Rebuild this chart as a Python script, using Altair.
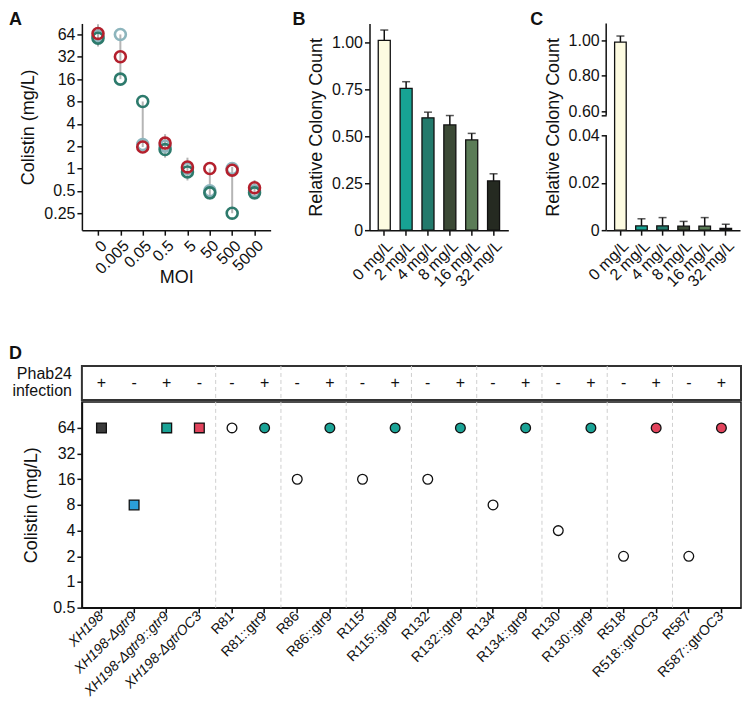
import altair as alt
import pandas as pd

FONT = "Liberation Sans"
INK = "#111111"

# ---------------- Panel A data ----------------
moi = ["0", "0.005", "0.05", "0.5", "5", "50", "500", "5000"]
a_series = ["light", "teal", "red"]
a_colors = ["#8db5bd", "#2d7a6c", "#b3202d"]
a_light = [61, 64, 2.1, 2.0, 1.0, 0.5, 1.0, 0.5]
a_teal = [57, 16, 8, 1.8, 0.9, 0.47, 0.25, 0.47]
a_red = [66, 32, 1.95, 2.2, 1.05, 1.0, 0.95, 0.55]
a_hi = [88, 64, 8, 2.9, 1.4, 1.0, 1.05, 0.7]
a_lo = [44, 16, 1.95, 1.4, 0.69, 0.38, 0.25, 0.38]
a_ticks = [0.25, 0.5, 1, 2, 4, 8, 16, 32, 64]

# ---------------- Panel B / C data ----------------
conc = ["0 mg/L", "2 mg/L", "4 mg/L", "8 mg/L", "16 mg/L", "32 mg/L"]
bar_colors = ["#fdfbe1", "#17a394", "#237a6c", "#3c4a36", "#5b7c57", "#252a21"]
b_val = [1.01, 0.755, 0.598, 0.56, 0.48, 0.262]
b_err = [1.065, 0.79, 0.628, 0.61, 0.515, 0.30]
b_ticks = [0, 0.25, 0.5, 0.75, 1.0]

c_val = [0.99, 0.0018, 0.0018, 0.0017, 0.0017, 0.0007]
c_err = [1.025, 0.0048, 0.0053, 0.0037, 0.0053, 0.0025]
c_break_lo = 0.04
c_break_hi = 0.577
c_top = 1.096
c_ticks = [0, 0.02, 0.04, c_break_hi, 0.6, 0.8, 1.0]

# ---------------- Panel D data ----------------
strains = ["XH198", "XH198-\u0394gtr9", "XH198-\u0394gtr9::gtr9", "XH198-\u0394gtrOC3",
           "R81", "R81::gtr9", "R86", "R86::gtr9", "R115", "R115::gtr9",
           "R132", "R132::gtr9", "R134", "R134::gtr9", "R130", "R130::gtr9",
           "R518", "R518::gtrOC3", "R587", "R587::gtrOC3"]
d_mic = [64, 8, 64, 64, 64, 64, 16, 64, 16, 64, 16, 64, 8, 64, 4, 64, 2, 64, 2, 64]
d_inf = ["+", "-", "+", "-", "-", "+", "-", "+", "-", "+",
         "-", "+", "-", "+", "-", "+", "-", "+", "-", "+"]
d_shape = ["square"] * 4 + ["circle"] * 16
TEAL = "#1aa396"
PINK = "#e2435c"
d_fill = ["#3b3b3b", "#2b9fd8", TEAL, PINK,
          "white", TEAL, "white", TEAL, "white", TEAL,
          "white", TEAL, "white", TEAL, "white", TEAL,
          "white", PINK, "white", PINK]
group_ends = ["XH198-\u0394gtrOC3", "R81::gtr9", "R86::gtr9", "R115::gtr9",
              "R132::gtr9", "R134::gtr9", "R130::gtr9", "R518::gtrOC3"]
d_ticks = [0.5, 1, 2, 4, 8, 16, 32, 64]
hdr_lines = ["Phab24", "infection"]


def label(t, dx, dy, size=18, weight="bold", align="left", baseline="top"):
    return alt.Chart(pd.DataFrame({"t": [t]})).mark_text(
        align=align, baseline=baseline, fontSize=size, fontWeight=weight, font=FONT, color=INK
    ).encode(text="t:N", x=alt.value(dx), y=alt.value(dy))


# ---------------- Panel A ----------------
dfA = pd.DataFrame({
    "moi": moi * 3,
    "mic": a_light + a_teal + a_red,
    "series": [s for s in a_series for _ in moi],
})
dfA_err = pd.DataFrame({"moi": moi, "lo": a_lo, "hi": a_hi})
xA = alt.X("moi:N", sort=moi, scale=alt.Scale(type="point", padding=0.72),
           axis=alt.Axis(title="MOI", labelAngle=-45, titlePadding=-8))
yA_scale = alt.Scale(type="log", base=2, domain=[0.1477, 90], nice=False)
ruleA = alt.Chart(dfA_err).mark_rule(color="#b5b5b5", strokeWidth=2).encode(
    x=xA,
    y=alt.Y("lo:Q", scale=yA_scale,
            axis=alt.Axis(title="Colistin (mg/L)", values=a_ticks, format="~g",
                          tickCount=len(a_ticks))),
    y2="hi:Q",
)
ptsA = alt.Chart(dfA).mark_point(shape="circle", filled=False, size=120, strokeWidth=2.6,
                                 opacity=1).encode(
    x=xA,
    y=alt.Y("mic:Q", scale=yA_scale),
    color=alt.Color("series:N", scale=alt.Scale(domain=a_series, range=a_colors), legend=None),
)
panelA = alt.layer(ruleA, ptsA, label("A", -73, -12)).properties(width=189, height=207)

# ---------------- Panel B ----------------
dfB = pd.DataFrame({"conc": conc, "val": b_val, "err": b_err, "fill": bar_colors})
xB = alt.X("conc:N", sort=conc, scale=alt.Scale(paddingInner=0.45, paddingOuter=0.4),
           axis=alt.Axis(title=None, labelAngle=-45))
yB_scale = alt.Scale(domain=[0, 1.10], nice=False)
barsB = alt.Chart(dfB).mark_bar(stroke=INK, strokeWidth=1.3).encode(
    x=xB,
    y=alt.Y("val:Q", scale=yB_scale,
            axis=alt.Axis(title="Relative Colony Count", values=b_ticks, tickCount=len(b_ticks),
                          labelExpr="datum.value == 0 ? '0' : format(datum.value, '.2f')")),
    fill=alt.Fill("fill:N", scale=None),
)
stemB = alt.Chart(dfB).mark_rule(color=INK, strokeWidth=1.5).encode(
    x=xB, y=alt.Y("val:Q", scale=yB_scale), y2="err:Q")
capB = alt.Chart(dfB).mark_tick(color=INK, thickness=1.5, size=8).encode(
    x=xB, y=alt.Y("err:Q", scale=yB_scale))
panelB = alt.layer(stemB, capB, barsB, label("B", -77, -12)).properties(width=139, height=207)

# ---------------- Panel C (broken axis via piecewise scale) ----------------
dfC = pd.DataFrame({"conc": conc, "val": c_val, "err": c_err, "fill": bar_colors})
xC = alt.X("conc:N", sort=conc, scale=alt.Scale(paddingInner=0.45, paddingOuter=0.4),
           axis=alt.Axis(title=None, labelAngle=-45))
yC_scale = alt.Scale(domain=[0, c_break_lo, c_break_hi, c_top], range=[207, 112, 92, 0],
                     nice=False, zero=False)
barsC = alt.Chart(dfC).mark_bar(stroke=INK, strokeWidth=1.3).encode(
    x=xC,
    y=alt.Y("val:Q", scale=yC_scale,
            axis=alt.Axis(title="Relative Colony Count", values=c_ticks, domain=False,
                          labelOverlap=False, tickCount=len(c_ticks),
                          labelExpr="datum.value == 0 ? '0' : (datum.value > 0.57 && datum.value < 0.58) ? '' : format(datum.value, '.2f')")),
    fill=alt.Fill("fill:N", scale=None),
)
stemC = alt.Chart(dfC).mark_rule(color=INK, strokeWidth=1.5).encode(
    x=xC, y=alt.Y("val:Q", scale=yC_scale), y2="err:Q")
capC = alt.Chart(dfC).mark_tick(color=INK, thickness=1.5, size=8).encode(
    x=xC, y=alt.Y("err:Q", scale=yC_scale))
axC = alt.Chart(pd.DataFrame({"lo": [0, c_break_hi], "hi": [c_break_lo, c_top]})).mark_rule(
    color=INK, strokeWidth=1.5).encode(
    x=alt.value(0), y=alt.Y("lo:Q", scale=yC_scale), y2="hi:Q")
panelC = alt.layer(stemC, capC, barsC, axC, label("C", -76, -12)).properties(width=134, height=207)

# ---------------- Panel D ----------------
dfD = pd.DataFrame({"strain": strains, "mic": d_mic, "inf": d_inf,
                    "shape": d_shape, "fill": d_fill})
dfEnds = pd.DataFrame({"strain": group_ends})
xD_scale = alt.Scale(domain=strains, paddingInner=0, paddingOuter=0.1)
D_W = 660

dashH = alt.Chart(dfEnds).mark_rule(color="#cfcfcf", strokeDash=[4, 3], strokeWidth=1).encode(
    x=alt.X("strain:N", scale=xD_scale, bandPosition=1, axis=None))
hdrText = alt.Chart(dfD).mark_text(fontSize=16, font=FONT, color=INK).encode(
    x=alt.X("strain:N", scale=xD_scale, axis=None), y=alt.value(17), text="inf:N")
header = alt.layer(
    dashH, hdrText,
    label(hdr_lines[0], -10, 8.5, size=16, weight="normal", align="right", baseline="middle"),
    label(hdr_lines[1], -10, 25.5, size=16, weight="normal", align="right", baseline="middle"),
    label("D", -73, -21),
).properties(width=D_W, height=34, view=alt.ViewBackground(stroke="#333333", strokeWidth=2))

dashM = alt.Chart(dfEnds).mark_rule(color="#cfcfcf", strokeDash=[4, 3], strokeWidth=1).encode(
    x=alt.X("strain:N", scale=xD_scale, bandPosition=1))
ptsD = alt.Chart(dfD).mark_point(filled=True, size=95, stroke=INK, strokeWidth=1.3,
                                 opacity=1).encode(
    x=alt.X("strain:N", scale=xD_scale,
            axis=alt.Axis(title=None, labelAngle=-45, labelFontSize=14, labelPadding=1,
                          labelFontStyle={"condition": {"test": "indexof(datum.label, 'XH198') >= 0",
                                                        "value": "italic"},
                                          "value": "normal"})),
    y=alt.Y("mic:Q", scale=alt.Scale(type="log", base=2, domain=[0.5, 129], nice=False),
            axis=alt.Axis(title="Colistin (mg/L)", values=d_ticks, format="~g",
                          tickCount=len(d_ticks), titlePadding=12)),
    shape=alt.Shape("shape:N", scale=None),
    fill=alt.Fill("fill:N", scale=None),
)
mainD = alt.layer(dashM, ptsD).properties(
    width=D_W, height=206, view=alt.ViewBackground(stroke=INK, strokeWidth=1.5))

panelD = alt.vconcat(header, mainD, spacing=-2).resolve_scale(x="independent", y="independent")
top = alt.hconcat(panelA, panelB, panelC, spacing=22).resolve_scale(
    x="independent", y="independent", color="independent")

chart = alt.vconcat(top, panelD, spacing=54).resolve_scale(
    x="independent", y="independent", color="independent"
).properties(
    padding={"left": 0, "top": 3, "right": 0, "bottom": 0}
).configure(font=FONT).configure_view(stroke=None).configure_axis(
    domainColor=INK, domainWidth=1.5, tickColor=INK, tickWidth=1.5, tickSize=5,
    labelColor=INK, titleColor=INK, labelFontSize=16, titleFontSize=18,
    titleFontWeight="normal", grid=False, labelFont=FONT, titleFont=FONT,
    labelPadding=2, titlePadding=6,
)

chart.save("out.html", embed_options={"renderer": "svg", "actions": False})
